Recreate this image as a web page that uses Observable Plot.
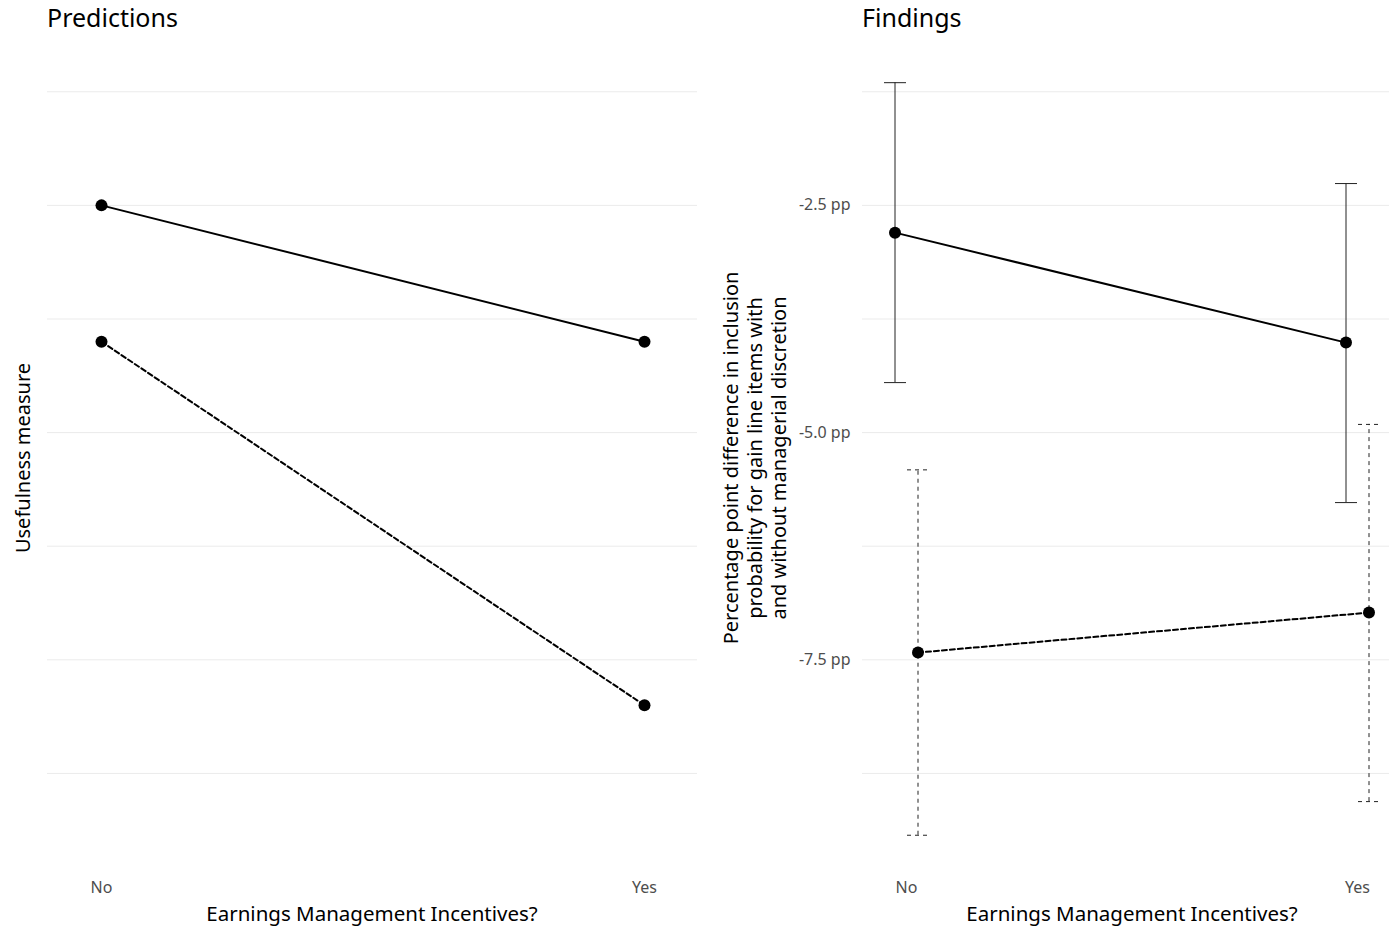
<!DOCTYPE html>
<html><head><meta charset="utf-8">
<script src="https://cdn.jsdelivr.net/npm/d3@7"></script>
<script src="https://cdn.jsdelivr.net/npm/@observablehq/plot@0.6"></script>
<style>
body{margin:0;background:#fff;font-family:"Noto Sans",sans-serif;overflow:hidden;}
#wrap{position:relative;width:1389px;height:929px;overflow:hidden;}
.panel{position:absolute;top:0;}
.title{position:absolute;top:0px;font-size:25px;color:#000;white-space:nowrap;}
.ylab{position:absolute;transform:translate(-50%,-50%) rotate(-90deg);font-size:20px;line-height:24px;text-align:center;white-space:nowrap;color:#000;}
.xlab{position:absolute;transform:translate(-50%,-50%);font-size:20.5px;white-space:nowrap;color:#000;}
</style>
</head><body>
<div id="wrap"></div>
<script>
// ---- data ----
const categories = ["No", "Yes"];
// Predictions (arbitrary usefulness measure)
const predHigh = [-2.5, -4.0];
const predLow = [-4.0, -8.0];
// Findings (percentage points)
const findSolid = [-2.80, -4.01];
const findSolidLo = [-4.45, -5.77];
const findSolidHi = [-1.15, -2.26];
const findDashed = [-7.42, -6.98];
const findDashedLo = [-9.43, -9.06];
const findDashedHi = [-5.41, -4.91];
const yTicks = [-2.5, -5.0, -7.5];
const yGrid = [-1.25, -2.5, -3.75, -5.0, -6.25, -7.5, -8.75];
const yDomain = [-9.84, -0.73];
const titles = ["Predictions", "Findings"];
const xTitle = "Earnings Management Incentives?";
const yTitleLeft = "Usefulness measure";
const yTitleRight = ["Percentage point difference in inclusion", "probability for gain line items with", "and without managerial discretion"];

const rows = (vals, lo, hi) => categories.map((c, i) => ({cat: c, v: vals[i], lo: lo ? lo[i] : null, hi: hi ? hi[i] : null}));

const capSymbol = {draw(ctx, size) { const w = Math.sqrt(size / Math.PI); ctx.moveTo(-w, 0); ctx.lineTo(w, 0); }};
const wrap = document.getElementById("wrap");
const H = 929, mTop = 44, mBottom = 57;
const gridColor = "#ebebeb";
const pad = 0.0975;
const lineDash = "5,3", barDash = "4,4", barColor = "#222", barW = 1, dotR = 6;

function addDiv(cls, html, style) {
  const d = document.createElement("div");
  d.className = cls; d.innerHTML = html; Object.assign(d.style, style); wrap.appendChild(d);
}

// ---- Left panel ----
const left = Plot.plot({
  width: 700, height: H,
  marginLeft: 47, marginRight: 3, marginTop: mTop, marginBottom: mBottom,
  style: {fontFamily: "'Noto Sans', sans-serif", background: "transparent"},
  x: {type: "point", domain: categories, padding: pad, label: null},
  y: {domain: yDomain, label: null, axis: null},
  marks: [
    Plot.ruleY(yGrid, {stroke: gridColor, strokeWidth: 1}),
    Plot.axisX({tickSize: 0, tickPadding: 9, fontSize: 16, color: "#4d4d4d", label: null}),
    Plot.line(rows(predHigh), {x: "cat", y: "v", stroke: "#000", strokeWidth: 2}),
    Plot.line(rows(predLow), {x: "cat", y: "v", stroke: "#000", strokeWidth: 2, strokeDasharray: lineDash}),
    Plot.dot(rows(predHigh), {x: "cat", y: "v", r: dotR, fill: "#000"}),
    Plot.dot(rows(predLow), {x: "cat", y: "v", r: dotR, fill: "#000"})
  ]
});
left.classList.add("panel"); left.style.left = "0px";
wrap.appendChild(left);

// ---- Right panel ----
const sRows = rows(findSolid, findSolidLo, findSolidHi);
const dRows = rows(findDashed, findDashedLo, findDashedHi);
const dxS = -11.5, dxD = 11.5;
const right = Plot.plot({
  width: 701, height: H,
  marginLeft: 162, marginRight: 0, marginTop: mTop, marginBottom: mBottom,
  style: {fontFamily: "'Noto Sans', sans-serif", background: "transparent"},
  x: {type: "point", domain: categories, padding: pad, label: null},
  y: {domain: yDomain, label: null},
  marks: [
    Plot.ruleY(yGrid, {stroke: gridColor, strokeWidth: 1}),
    Plot.axisX({tickSize: 0, tickPadding: 9, fontSize: 16, color: "#4d4d4d", label: null}),
    Plot.axisY({ticks: yTicks, tickSize: 0, tickPadding: 12, fontSize: 16, color: "#4d4d4d", label: null, tickFormat: d => d.toFixed(1) + " pp"}),
    Plot.ruleX(sRows, {x: "cat", y1: "lo", y2: "hi", dx: dxS, stroke: barColor, strokeWidth: barW}),
    Plot.dot(sRows, {x: "cat", y: "lo", dx: dxS, symbol: capSymbol, r: 11, fill: "none", stroke: barColor, strokeWidth: barW}),
    Plot.dot(sRows, {x: "cat", y: "hi", dx: dxS, symbol: capSymbol, r: 11, fill: "none", stroke: barColor, strokeWidth: barW}),
    Plot.ruleX(dRows, {x: "cat", y1: "lo", y2: "hi", dx: dxD, stroke: barColor, strokeWidth: barW, strokeDasharray: barDash}),
    Plot.dot(dRows, {x: "cat", y: "lo", dx: dxD, symbol: capSymbol, r: 11, fill: "none", stroke: barColor, strokeWidth: barW, strokeDasharray: barDash}),
    Plot.dot(dRows, {x: "cat", y: "hi", dx: dxD, symbol: capSymbol, r: 11, fill: "none", stroke: barColor, strokeWidth: barW, strokeDasharray: barDash}),
    Plot.line(sRows, {x: "cat", y: "v", dx: dxS, stroke: "#000", strokeWidth: 2}),
    Plot.line(dRows, {x: "cat", y: "v", dx: dxD, stroke: "#000", strokeWidth: 2, strokeDasharray: lineDash}),
    Plot.dot(sRows, {x: "cat", y: "v", dx: dxS, r: dotR, fill: "#000"}),
    Plot.dot(dRows, {x: "cat", y: "v", dx: dxD, r: dotR, fill: "#000"})
  ]
});
right.classList.add("panel"); right.style.left = "700px";
wrap.appendChild(right);

// ---- titles / axis titles ----
addDiv("title", titles[0], {left: "47px"});
addDiv("title", titles[1], {left: "862px"});
addDiv("xlab", xTitle, {left: "372px", top: "913px"});
addDiv("xlab", xTitle, {left: "1132px", top: "913px"});
addDiv("ylab", yTitleLeft, {left: "23px", top: "458px"});
addDiv("ylab", yTitleRight.join("<br>"), {left: "755px", top: "458px"});
</script>
</body></html>
